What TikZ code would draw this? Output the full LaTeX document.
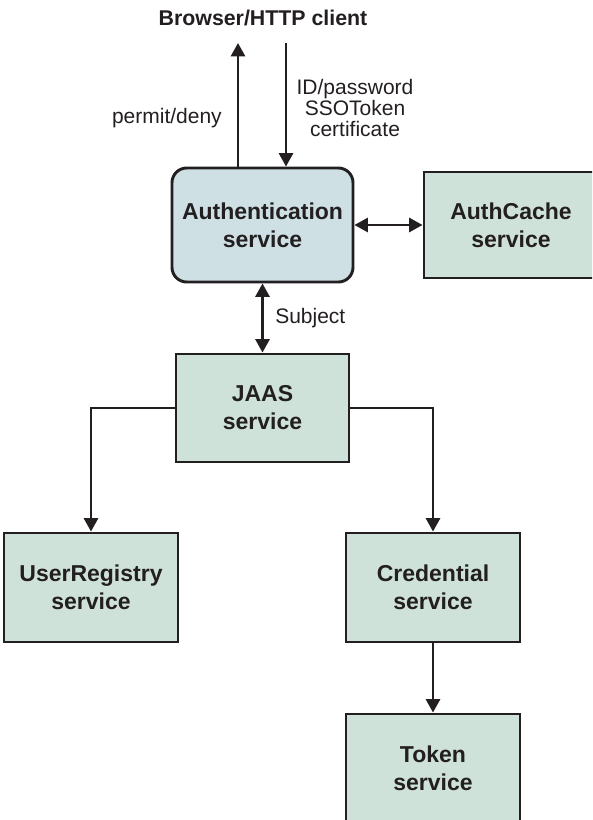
\documentclass[tikz,border=0pt]{standalone}
\usepackage{fontspec}
\setmainfont{Liberation Sans}
\usetikzlibrary{arrows.meta,positioning}
\definecolor{authfill}{RGB}{207,224,229}
\definecolor{svcfill}{RGB}{206,226,217}
\definecolor{ink}{RGB}{35,31,32}
\tikzset{
  svcbox/.style={draw=ink, line width=2.2pt, fill=svcfill, align=center, inner sep=0pt,
    font=\fontsize{17.25}{21}\selectfont\bfseries, text=ink},
  authbox/.style={svcbox, fill=authfill, rounded corners=11pt},
  tip/.tip={Triangle[length=10pt,width=10.5pt]},
  conn/.style={draw=ink, line width=1.9pt, -tip},
  dconn/.style={draw=ink, line width=1.9pt, tip-tip},
  lbl/.style={font=\fontsize{15.75}{16}\selectfont, text=ink, inner sep=0pt, align=center}
}
\begin{document}
\begin{tikzpicture}[x=0.75pt,y=-0.75pt]
\useasboundingbox (0,0) rectangle (592,820);
\clip (0,0) rectangle (592,820);
\node[authbox, minimum width=135.75pt, minimum height=85.5pt] (auth) at (262.5,225) {Authentication\\service};
\node[svcbox, minimum width=130.5pt, minimum height=79.5pt] (cache) at (511,225) {AuthCache\\service};
\node[svcbox, minimum width=129.75pt, minimum height=81pt] (jaas) at (262.5,408) {JAAS\\service};
\node[svcbox, minimum width=130.5pt, minimum height=81.75pt] (ureg) at (91,587.5) {UserRegistry\\service};
\node[svcbox, minimum width=130.5pt, minimum height=81.75pt] (cred) at (433,587.5) {Credential\\service};
\node[svcbox, minimum width=130.5pt, minimum height=81.75pt] (tok) at (433,768.5) {Token\\service};
\node[lbl, font=\fontsize{16}{18}\selectfont\bfseries] (client) at (263,18) {Browser/HTTP client};
\coordinate (up) at (238,43);
\coordinate (down) at (286,43);
\node[lbl, anchor=east] (permit) at (222,118) {permit/deny};
\node[lbl] (idpw) at (355,108) {ID/password\\SSOToken\\certificate};
\node[lbl, anchor=west] (subj) at (275,318) {Subject};
\draw[conn] (auth.north -| up) -- (up);
\draw[conn] (down) -- (auth.north -| down);
\draw[dconn] (auth.east) -- (cache.west);
\draw[dconn] (auth.south) -- (jaas.north);
\draw[conn] (jaas.west) -| (ureg.north);
\draw[conn] (jaas.east) -| (cred.north);
\draw[conn] (cred.south) -- (tok.north);
\end{tikzpicture}
\end{document}
